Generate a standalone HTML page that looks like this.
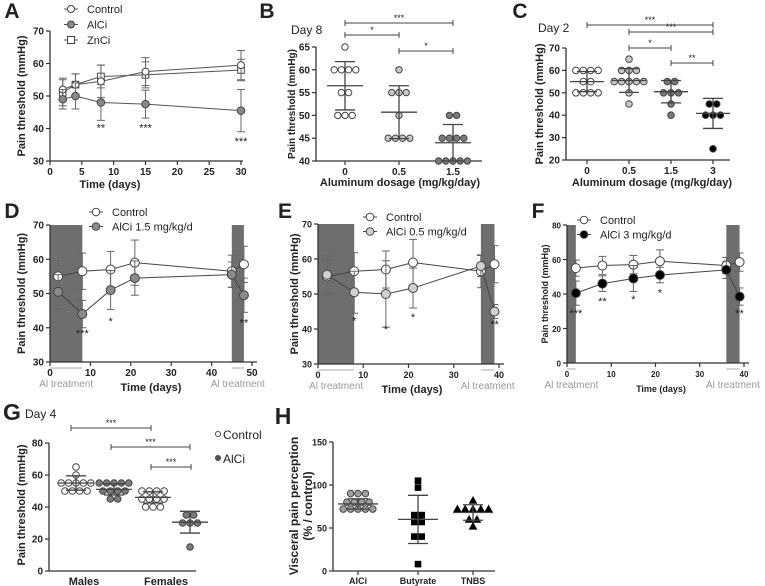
<!DOCTYPE html>
<html><head><meta charset="utf-8"><style>
html,body{margin:0;padding:0;background:#fff}
svg{display:block;font-family:"Liberation Sans",Arial,sans-serif}
</style></head><body>
<svg id="fig" width="765" height="586" viewBox="0 0 765 586" xmlns="http://www.w3.org/2000/svg"></svg>
<script>
// ---------- Panel A data ----------
const aDays=[2,4,8,15,30];
const aCtrl=[52,53.5,54.5,57.5,59.5];
const aCtrlErr=[3.5,3.3,5,4.3,4.5];
const aAl=[49,50,48,47.5,45.5];
const aAlErr=[3,4,5.5,4.3,6.5];
const aZn=[51,53.5,56,56.5,58];
const aZnErr=[4,3.3,3.5,4,3.3];
const aStarDays=[8,15,30];
const aStarLabels=['**','***','***'];
const aStarVals=[40.3,40.3,36.2];
const aYTicks=[30,40,50,60,70];
const aXTicks=[0,5,10,15,20,25,30];
// ---------- Panel B data ----------
const bCats=['0','0.5','1.5'];
const bG0=[65,60,60,60,60,55,55,50,50,50];
const bG1=[60,55,55,55,50,45,45,45,45];
const bG2=[50,50,45,45,45,45,40,40,40,40,40];
const bMeans=[56.5,50.7,44];
const bSD=[5.3,5.8,4];
const bYTicks=[40,45,50,55,60,65];
// ---------- Panel C data ----------
const cCats=['0','0.5','1.5','3'];
const cG0=[60,60,60,60,55,55,50,50,50,50];
const cG1=[65,60,60,60,55,55,55,55,55,50,45];
const cG2=[55,55,50,50,50,45,40];
const cG3=[45,45,40,40,40,25];
const cMeans=[55,55.5,50.5,40.8];
const cSD=[4.5,5.3,5,6.7];
const cYTicks=[20,30,40,50,60,70];
// ---------- Panel D data ----------
const dDays=[2,8,15,21,45,48];
const dCtrl=[55,56.5,57,59,56.5,58.5];
const dCtrlErr=[4.7,5.3,5.3,6.6,4.7,5.3];
const dAl=[50.5,44,51,54.5,55.5,49.5];
const dAlErr=[5,4,5.7,5,3.7,5];
const dStarDays=[8,15,48];
const dStarLabels=['***','*','**'];
const dStarVals=[38.5,42,41.5];
const dYTicks=[30,40,50,60,70];
const dXTicks=[0,10,20,30,40,50];
// ---------- Panel E data ----------
const eDays=[2,8,15,21,36,39];
const eCtrl=[55,56.5,57,59,56.5,58.5];
const eCtrlErr=[4.7,5.3,5.3,6.6,4.7,5.3];
const eAl=[55.5,50.5,50,51.7,58,45];
const eAlErr=[5.5,6,9.5,5.7,3,2];
const eStarDays=[8,15,21,39];
const eStarLabels=['*','*','*','**'];
const eStarVals=[42.5,40,43.5,41.5];
const eYTicks=[30,40,50,60,70];
const eXTicks=[0,10,20,30,40];
// ---------- Panel F data ----------
const fDays=[2,8,15,21,36,39];
const fCtrl=[55,56.5,57,59,56.5,58.5];
const fCtrlErr=[4.7,5.3,5.3,6.6,4.7,5.3];
const fAl=[40.5,46,49,51,54,38.5];
const fAlErr=[7,4.5,7.5,4.5,5,5];
const fStarDays=[2,8,15,21,39];
const fStarLabels=['***','**','*','*','**'];
const fStarVals=[29,36,37,41,29];
const fYTicks=[0,20,40,60,80];
const fXTicks=[0,10,20,30,40];
// ---------- Panel G data ----------
const gCats=['Males','Females'];
const gMC=[65,60,55,55,55,55,55,50,50,50,50];
const gMA=[55,55,55,55,55,50,50,50,50,45,45];
const gFC=[50,50,50,50,45,45,45,45,40,40,40];
const gFA=[35,35,30,30,30,15];
const gMeans=[55,51,46,30.5];
const gSD=[4.5,3.5,3.5,6.8];
const gYTicks=[0,20,40,60,80];
// ---------- Panel H data ----------
const hCats=['AlCi','Butyrate','TNBS'];
const hAl=[90,90,90,80,80,80,80,72,72,72,72,72];
const hBu=[105,97,65,65,64,57,57,40,40,8];
const hTn=[82,72,72,72,72,72,60,60,52];
const hMeans=[78,60,68];
const hSD=[6,28,9];
const hYTicks=[0,50,100,150];

const NS='http://www.w3.org/2000/svg';
const svg=document.getElementById('fig');
function mk(tag,attrs,name,parent){
  const e=document.createElementNS(NS,tag);
  for(const k in attrs)e.setAttribute(k,attrs[k]);
  
  
  (parent||svg).appendChild(e);return e;
}
function txt(s,x,y,size,name,opts,parent){
  opts=opts||{};
  const a={x:x,y:y,'font-size':size,'font-weight':opts.w||'bold','text-anchor':opts.a||'middle',fill:opts.fill||'#222'};
  if(opts.rot!==undefined)a.transform='rotate('+opts.rot+' '+x+' '+y+')';
  const t=mk('text',a,name,parent);t.textContent=s;return t;
}
function lin(d0,d1,p0,p1){return v=>p0+(v-d0)*(p1-p0)/(d1-d0);}
function ln(x1,y1,x2,y2,name,col,w,parent){return mk('line',{x1:x1,y1:y1,x2:x2,y2:y2,stroke:col||'#333','stroke-width':w||1},name,parent);}
function yAxis(g,x,sc,ticks,size){
  ln(x,sc(ticks[0]),x,sc(ticks[ticks.length-1]),'y-axis-line','#333',1.3,g);
  ticks.forEach(t=>{ln(x-4,sc(t),x,sc(t),'y-tick','#333',1.2,g);
    txt(String(t),x-6,sc(t)+3.5,size||10,'y-tick-label',{a:'end'},g);});
}
function xAxisNum(g,y,sc,ticks,x1,size){
  ln(sc(ticks[0]),y,x1,y,'x-axis-line','#333',1.3,g);
  ticks.forEach(t=>{ln(sc(t),y,sc(t),y+4,'x-tick','#333',1.2,g);
    txt(String(t),sc(t),y+14,size||10,'x-tick-label',{},g);});
}
function marker(g,shape,x,y,r,fill,name){
  if(shape==='sq')return mk('rect',{x:x-r,y:y-r,width:2*r,height:2*r,fill:fill,stroke:'#444','stroke-width':1},name,g);
  if(shape==='tri')return mk('path',{d:'M'+x+' '+(y-r)+'L'+(x+r)+' '+(y+r*0.8)+'L'+(x-r)+' '+(y+r*0.8)+'Z',fill:fill,stroke:fill},name,g);
  if(shape==='sqf')return mk('rect',{x:x-r,y:y-r,width:2*r,height:2*r,fill:fill},name,g);
  return mk('circle',{cx:x,cy:y,r:r,fill:fill,stroke:'#444','stroke-width':1},name,g);
}
function series(g,xs,ys,errs,sx,sy,shape,fill,r,name,lcol){
  const pts=xs.map((d,i)=>sx(d)+','+sy(ys[i])).join(' ');
  mk('polyline',{points:pts,fill:'none',stroke:lcol||'#555','stroke-width':1},name+'-line',g);
  xs.forEach((d,i)=>{const x=sx(d);
    ln(x,sy(ys[i]-errs[i]),x,sy(ys[i]+errs[i]),name+'-errorbar','#666',1,g);
    ln(x-4,sy(ys[i]-errs[i]),x+4,sy(ys[i]-errs[i]),name+'-errorcap','#666',1,g);
    ln(x-4,sy(ys[i]+errs[i]),x+4,sy(ys[i]+errs[i]),name+'-errorcap','#666',1,g);});
  xs.forEach((d,i)=>marker(g,shape,sx(d),sy(ys[i]),r,fill,name+'-point'));
}
function stars(g,days,labels,vals,sx,sy){
  days.forEach((d,i)=>txt(labels[i],sx(d),sy(vals[i])+4,11,'significance-stars',{w:'normal'},g));
}
function scatterGroup(g,vals,cx,sy,r,fill,shape,mean,sd,half,name){
  const rows={};vals.forEach(v=>{rows[v]=(rows[v]||0)+1;});
  Object.keys(rows).forEach(k=>{const n=rows[k];for(let i=0;i<n;i++){
    marker(g,shape,cx+(i-(n-1)/2)*(2*r+0.8),sy(+k),r,fill,name+'-point');}});
  ln(cx-half,sy(mean),cx+half,sy(mean),name+'-mean','#444',1.3,g);
  ln(cx,sy(mean-sd),cx,sy(mean+sd),name+'-sd','#444',1.3,g);
  ln(cx-10,sy(mean-sd),cx+10,sy(mean-sd),name+'-sd-cap','#444',1.3,g);
  ln(cx-10,sy(mean+sd),cx+10,sy(mean+sd),name+'-sd-cap','#444',1.3,g);
}
function bracket(g,x1,x2,y,label){
  ln(x1,y,x2,y,'significance-bracket','#444',1,g);
  ln(x1,y-3,x1,y+3,'bracket-end','#444',1,g);ln(x2,y-3,x2,y+3,'bracket-end','#444',1,g);
  txt(label,(x1+x2)/2,y-2,9,'significance-stars',{w:'normal'},g);
}
function group(name){return mk('g',{},name);}

// ===== Panel A =====
(function(){
const g=group('panel-a');
txt('A',12,18,21,'panel-label-a',{},g);
const sx=lin(0,30,50,241), sy=lin(30,70,161,31);
yAxis(g,50,sy,aYTicks);xAxisNum(g,161,sx,aXTicks,243);
txt('Pain threshold (mmHg)',25,96,11,'y-axis-title',{rot:-90},g);
txt('Time (days)',110,188,11,'x-axis-title',{},g);
series(g,aDays,aZn,aZnErr,sx,sy,'sq','#fff',3.3,'znci');
series(g,aDays,aCtrl,aCtrlErr,sx,sy,'c','#fff',3.5,'control');
series(g,aDays,aAl,aAlErr,sx,sy,'c','#888',3.8,'alci');
stars(g,aStarDays,aStarLabels,aStarVals,sx,sy);
const lg=[['Control','c','#fff'],['AlCi','c','#888'],['ZnCi','sq','#fff']];
lg.forEach((l,i)=>{const y=9+i*15.5;ln(64,y,78,y,'legend-line','#555',1,g);marker(g,l[1],71,y,3.5,l[2],'legend-marker');
  txt(l[0],87,y+4,11,'legend-entry',{a:'start',w:'normal'},g);});
})();

// ===== Panel B =====
(function(){
const g=group('panel-b');
txt('B',267,18,21,'panel-label-b',{},g);
txt('Day 8',291,34,12,'panel-subtitle',{a:'start',w:'normal'},g);
const sy=lin(40,65,161,47);const cx=[345,399,453];
yAxis(g,316,sy,bYTicks);
ln(316,161,482,161,'x-axis-line','#333',1.3,g);
bCats.forEach((c,i)=>{ln(cx[i],161,cx[i],165,'x-tick','#333',1.2,g);txt(c,cx[i],175,10,'x-tick-label',{},g);});
txt('Pain threshold (mmHg)',295,104,10,'y-axis-title',{rot:-90},g);
txt('Aluminum dosage (mg/kg/day)',400,186,11,'x-axis-title',{},g);
const groups=[bG0,bG1,bG2],fills=['#fff','#c8c8c8','#7a7a7a'];
groups.forEach((v,i)=>scatterGroup(g,v,cx[i],sy,3.2,fills[i],'c',bMeans[i],bSD[i],18,'group-'+bCats[i]));
bracket(g,345,453,23,'***');bracket(g,345,399,35,'*');bracket(g,399,453,51,'*');
})();

// ===== Panel C =====
(function(){
const g=group('panel-c');
txt('C',520,18,21,'panel-label-c',{},g);
txt('Day 2',538,32,12,'panel-subtitle',{a:'start',w:'normal'},g);
const sy=lin(20,70,160,48);const cx=[587,629,671,713];
yAxis(g,566,sy,cYTicks);
ln(566,160,730,160,'x-axis-line','#333',1.3,g);
cCats.forEach((c,i)=>{ln(cx[i],160,cx[i],164,'x-tick','#333',1.2,g);txt(c,cx[i],174,10,'x-tick-label',{},g);});
txt('Pain threshold (mmHg)',543,104,11,'y-axis-title',{rot:-90},g);
txt('Aluminum dosage (mg/kg/day)',652,186,11,'x-axis-title',{},g);
const groups=[cG0,cG1,cG2,cG3],fills=['#fff','#c8c8c8','#7a7a7a','#000'];
groups.forEach((v,i)=>scatterGroup(g,v,cx[i],sy,3.3,fills[i],'c',cMeans[i],cSD[i],17,'group-'+cCats[i]));
bracket(g,587,713,25,'***');bracket(g,629,713,32,'***');bracket(g,629,671,48,'*');bracket(g,671,713,63,'**');
})();

// ===== Line panels D/E/F =====
function linePanel(o){
const g=group(o.name);
txt(o.letter,o.lx,o.ly,21,'panel-label',{},g);
const sx=lin(0,o.xmax,o.x0,o.x1), sy=lin(o.ymin,o.ymax,o.yb,o.yt);
o.shade.forEach(s=>{mk('rect',{x:sx(s[0]),y:o.yt,width:sx(s[1])-sx(s[0]),height:o.yb-o.yt,fill:'#6e6e6e'},'treatment-shading',g);
  ln(sx(s[0]),o.yb+6,sx(s[1]),o.yb+6,'treatment-mark','#aaa',1,g);
  txt('Al treatment',(sx(s[0])+sx(s[1]))/2+o.tlOff,o.yb+25,10,'treatment-label',{fill:'#999',w:'normal'},g);});
yAxis(g,o.x0,sy,o.yTicks,o.fs);xAxisNum(g,o.yb,sx,o.xTicks,o.x1+5,o.fs);
txt('Pain threshold (mmHg)',o.ytx,(o.yt+o.yb)/2,o.yfs||11,'y-axis-title',{rot:-90},g);
txt('Time (days)',o.xtx,o.yb+29,o.xfs||11,'x-axis-title',{},g);
series(g,o.days,o.ctrl,o.ctrlErr,sx,sy,'c','#fff',4.5,'control','#444');
series(g,o.days,o.al,o.alErr,sx,sy,'c',o.alFill,4.5,'alci','#444');
stars(g,o.sd,o.sl,o.sv,sx,sy);
[['Control','#fff'],[o.alLabel,o.alFill]].forEach((l,i)=>{const y=o.legY+i*14.5;
  ln(o.legX-7,y,o.legX+7,y,'legend-line','#444',1,g);marker(g,'c',o.legX,y,3.8,l[1],'legend-marker');
  txt(l[0],o.legX+16,y+4,11,'legend-entry',{a:'start',w:'normal'},g);});
}
linePanel({name:'panel-d',letter:'D',lx:12,ly:218,x0:50,x1:252,xmax:50,ymin:30,ymax:70,yb:362,yt:225,
 shade:[[0,8],[45,48]],tlOff:0,days:dDays,ctrl:dCtrl,ctrlErr:dCtrlErr,al:dAl,alErr:dAlErr,alFill:'#8a8a8a',
 alLabel:'AlCi 1.5 mg/kg/d',sd:dStarDays,sl:dStarLabels,sv:dStarVals,yTicks:dYTicks,xTicks:dXTicks,
 ytx:25,xtx:151,legX:96,legY:212});
linePanel({name:'panel-e',letter:'E',lx:285,ly:218,x0:318,x1:499,xmax:40,ymin:30,ymax:70,yb:364,yt:224,
 shade:[[0,8],[36,39]],tlOff:0,days:eDays,ctrl:eCtrl,ctrlErr:eCtrlErr,al:eAl,alErr:eAlErr,alFill:'#d0d0d0',
 alLabel:'AlCi 0.5 mg/kg/d',sd:eStarDays,sl:eStarLabels,sv:eStarVals,yTicks:eYTicks,xTicks:eXTicks,fs:9,
 ytx:298,xtx:412,legX:370,legY:217,yfs:11});
linePanel({name:'panel-f',letter:'F',lx:538,ly:218,x0:567,x1:744,xmax:40,ymin:0,ymax:80,yb:363,yt:225,
 shade:[[0,2],[36,39]],tlOff:0,days:fDays,ctrl:fCtrl,ctrlErr:fCtrlErr,al:fAl,alErr:fAlErr,alFill:'#000',
 alLabel:'AlCi 3 mg/kg/d',sd:fStarDays,sl:fStarLabels,sv:fStarVals,yTicks:fYTicks,xTicks:fXTicks,fs:8,
 ytx:548,xtx:661,legX:584,legY:220,yfs:9,xfs:9});

// ===== Panel G =====
(function(){
const g=group('panel-g');
txt('G',12,420,23,'panel-label-g',{},g);
txt('Day 4',25,418,12,'panel-subtitle',{a:'start',w:'normal'},g);
const sy=lin(0,80,571,443);const cx=[76,114,153,190];
yAxis(g,49,sy,gYTicks);
ln(49,571,196,571,'x-axis-line','#333',1.3,g);
txt(gCats[0],84,585,11,'x-tick-label',{},g);txt(gCats[1],166,585,11,'x-tick-label',{},g);
txt('Pain threshold (mmHg)',25,505,11,'y-axis-title',{rot:-90},g);
const groups=[gMC,gMA,gFC,gFA],fills=['#fff','#7a7a7a','#fff','#7a7a7a'];
groups.forEach((v,i)=>scatterGroup(g,v,cx[i],sy,3.3,fills[i],'c',gMeans[i],gSD[i],18,'group-'+i));
bracket(g,71,151,428,'***');bracket(g,111,190,447,'***');bracket(g,151,191,467,'***');
marker(g,'c',218,434,2.5,'#fff','legend-marker');txt('Control',223,439,12,'legend-entry',{a:'start',w:'normal'},g);
marker(g,'c',218,458,2.5,'#555','legend-marker');txt('AlCi',223,463,12,'legend-entry',{a:'start',w:'normal'},g);
})();

// ===== Panel H =====
(function(){
const g=group('panel-h');
txt('H',283,424,23,'panel-label-h',{},g);
const sy=lin(0,150,571,442);const cx=[358,418,473];
yAxis(g,333,sy,hYTicks,9);
ln(333,571,495,571,'x-axis-line','#333',1.3,g);
hCats.forEach((c,i)=>{ln(cx[i],571,cx[i],575,'x-tick','#333',1.2,g);txt(c,cx[i],584,9,'x-tick-label',{},g);});
txt('Visceral pain perception',298,506,12,'y-axis-title',{rot:-90},g);
txt('(% / control)',312,506,12,'y-axis-title',{rot:-90},g);
scatterGroup(g,hAl,cx[0],sy,3.3,'#a0a0a0','c',hMeans[0],hSD[0],20,'group-alci');
scatterGroup(g,hBu,cx[1],sy,3.3,'#000','sqf',hMeans[1],hSD[1],20,'group-butyrate');
scatterGroup(g,hTn,cx[2],sy,3.5,'#000','tri',hMeans[2],hSD[2],20,'group-tnbs');
})();
</script>
</body></html>
